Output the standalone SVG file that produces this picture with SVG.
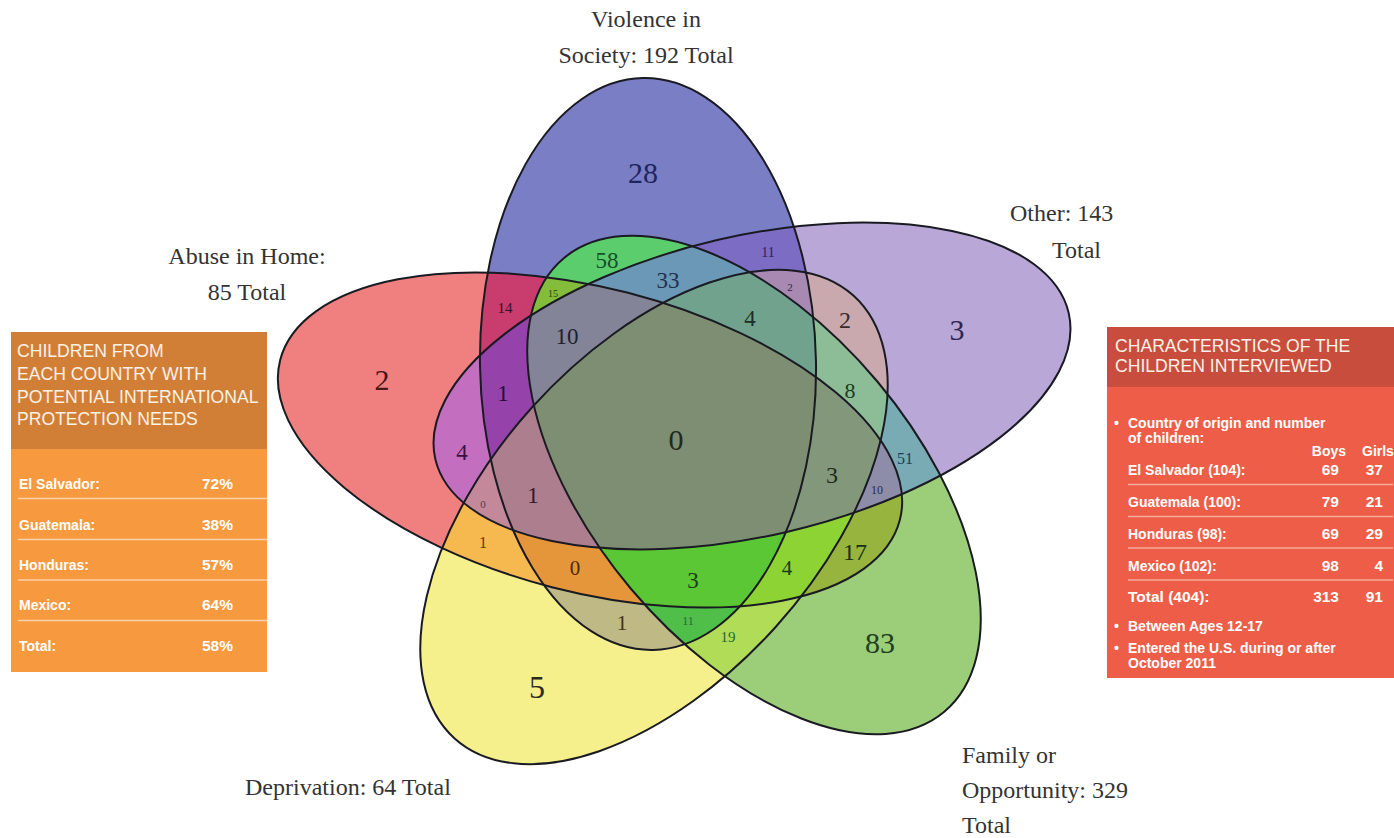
<svg xmlns="http://www.w3.org/2000/svg" xmlns:xlink="http://www.w3.org/1999/xlink" width="1394" height="838" viewBox="0 0 1394 838">
<style>
.ttl{font-family:'Liberation Serif','Times New Roman',serif;font-size:24px;fill:#333333}
.num{font-family:'Liberation Serif','Times New Roman',serif;text-anchor:middle}
.outline{fill:none;stroke:#1a1a22;stroke-width:2}
.hdr{font-family:'Liberation Sans',Arial,sans-serif;font-size:17.6px;fill:#fbf1e6}
.row{font-family:'Liberation Sans',Arial,sans-serif;font-size:14px;font-weight:bold;fill:#ffffff}
.val{font-size:15.5px}
.sepL{stroke:#fbd2a8;stroke-width:1.6}
.sepR{stroke:#f7ab9c;stroke-width:1.6}
</style>
<defs>
<ellipse id="eR" cx="590" cy="440" rx="320" ry="152" transform="rotate(14.5 590 440)"/>
<ellipse id="eB" cx="648" cy="364" rx="168" ry="286" transform="rotate(-1 648 364)"/>
<ellipse id="eP" cx="752" cy="386" rx="325" ry="150" transform="rotate(-13 752 386)"/>
<ellipse id="eY" cx="654" cy="517" rx="298" ry="164" transform="rotate(-48 654 517)"/>
<ellipse id="eG" cx="754" cy="485" rx="296" ry="161" transform="rotate(50 754 485)"/>
<clipPath id="cR"><use href="#eR"/></clipPath>
<clipPath id="cB"><use href="#eB"/></clipPath>
<clipPath id="cP"><use href="#eP"/></clipPath>
<clipPath id="cY"><use href="#eY"/></clipPath>
<clipPath id="cG"><use href="#eG"/></clipPath>
</defs>
<rect width="1394" height="838" fill="#ffffff"/>

<g id="venn-regions">
<use href="#eR" fill="#f08080"/>
<use href="#eB" fill="#7a7ec4"/>
<use href="#eP" fill="#b9a8d7"/>
<use href="#eY" fill="#f5f08c"/>
<use href="#eG" fill="#9ccd78"/>
<g clip-path="url(#cR)"><use href="#eB" fill="#c83c6e"/></g>
<g clip-path="url(#cR)"><use href="#eP" fill="#c46ebf"/></g>
<g clip-path="url(#cR)"><use href="#eY" fill="#f6b94f"/></g>
<g clip-path="url(#cR)"><use href="#eG" fill="#97b43e"/></g>
<g clip-path="url(#cB)"><use href="#eP" fill="#7c6cc4"/></g>
<g clip-path="url(#cB)"><use href="#eY" fill="#bfb985"/></g>
<g clip-path="url(#cB)"><use href="#eG" fill="#5ccd6c"/></g>
<g clip-path="url(#cP)"><use href="#eY" fill="#c9a9ad"/></g>
<g clip-path="url(#cP)"><use href="#eG" fill="#79abb5"/></g>
<g clip-path="url(#cY)"><use href="#eG" fill="#b0dc58"/></g>
<g clip-path="url(#cR)"><g clip-path="url(#cB)"><use href="#eP" fill="#9642ab"/></g></g>
<g clip-path="url(#cR)"><g clip-path="url(#cB)"><use href="#eG" fill="#84bd3c"/></g></g>
<g clip-path="url(#cR)"><g clip-path="url(#cB)"><use href="#eY" fill="#e5963b"/></g></g>
<g clip-path="url(#cR)"><g clip-path="url(#cP)"><use href="#eY" fill="#c3899a"/></g></g>
<g clip-path="url(#cR)"><g clip-path="url(#cP)"><use href="#eG" fill="#8d8ca9"/></g></g>
<g clip-path="url(#cR)"><g clip-path="url(#cY)"><use href="#eG" fill="#8ed334"/></g></g>
<g clip-path="url(#cB)"><g clip-path="url(#cP)"><use href="#eY" fill="#a889b2"/></g></g>
<g clip-path="url(#cB)"><g clip-path="url(#cP)"><use href="#eG" fill="#6b98b6"/></g></g>
<g clip-path="url(#cB)"><g clip-path="url(#cY)"><use href="#eG" fill="#4fbf49"/></g></g>
<g clip-path="url(#cP)"><g clip-path="url(#cY)"><use href="#eG" fill="#8dbd97"/></g></g>
<g clip-path="url(#cR)"><g clip-path="url(#cB)"><g clip-path="url(#cP)"><use href="#eG" fill="#838497"/></g></g></g>
<g clip-path="url(#cR)"><g clip-path="url(#cB)"><g clip-path="url(#cP)"><use href="#eY" fill="#ad7f8e"/></g></g></g>
<g clip-path="url(#cR)"><g clip-path="url(#cB)"><g clip-path="url(#cY)"><use href="#eG" fill="#5cc735"/></g></g></g>
<g clip-path="url(#cR)"><g clip-path="url(#cP)"><g clip-path="url(#cY)"><use href="#eG" fill="#83987b"/></g></g></g>
<g clip-path="url(#cB)"><g clip-path="url(#cP)"><g clip-path="url(#cY)"><use href="#eG" fill="#70a28e"/></g></g></g>
<g clip-path="url(#cR)"><g clip-path="url(#cB)"><g clip-path="url(#cP)"><g clip-path="url(#cY)"><use href="#eG" fill="#7e8e72"/></g></g></g></g>
</g>

<g id="venn-outlines">
<use href="#eR" class="outline"/>
<use href="#eB" class="outline"/>
<use href="#eP" class="outline"/>
<use href="#eY" class="outline"/>
<use href="#eG" class="outline"/>
</g>

<g id="venn-numbers">
<text class="num" x="643" y="183" font-size="30" fill="#1e2460">28</text>
<text class="num" x="382" y="390" font-size="30" fill="#4a1515">2</text>
<text class="num" x="957" y="340" font-size="30" fill="#2e2550">3</text>
<text class="num" x="537" y="698" font-size="32" fill="#2a2a1a">5</text>
<text class="num" x="880" y="653" font-size="30" fill="#1c4020">83</text>
<text class="num" x="676" y="450" font-size="30" fill="#1e2a1e">0</text>
<text class="num" x="607" y="268" font-size="23" fill="#14502a">58</text>
<text class="num" x="668" y="288" font-size="23" fill="#1e3050">33</text>
<text class="num" x="553" y="296.5" font-size="10" fill="#2a4010">15</text>
<text class="num" x="505" y="313" font-size="15" fill="#3a0f20">14</text>
<text class="num" x="567" y="344" font-size="23" fill="#1e2030">10</text>
<text class="num" x="768" y="257" font-size="14" fill="#2a2060">11</text>
<text class="num" x="790" y="291" font-size="11" fill="#3a2040">2</text>
<text class="num" x="750" y="326" font-size="23" fill="#1a3020">4</text>
<text class="num" x="503" y="401" font-size="23" fill="#2a0a3a">1</text>
<text class="num" x="845" y="328" font-size="24" fill="#3a2a2a">2</text>
<text class="num" x="850" y="398" font-size="22" fill="#1e3a22">8</text>
<text class="num" x="832" y="483" font-size="24" fill="#1e2a1a">3</text>
<text class="num" x="905" y="463.5" font-size="16" fill="#1e3a5a">51</text>
<text class="num" x="877" y="494" font-size="12" fill="#2a2a4a">10</text>
<text class="num" x="462" y="460" font-size="23" fill="#3a1040">4</text>
<text class="num" x="533" y="503" font-size="24" fill="#3a1a2a">1</text>
<text class="num" x="483" y="508" font-size="11" fill="#5a3a4a">0</text>
<text class="num" x="483" y="547.5" font-size="16" fill="#5a3a10">1</text>
<text class="num" x="575" y="575" font-size="21" fill="#4a2a08">0</text>
<text class="num" x="622" y="630" font-size="22" fill="#3a3a20">1</text>
<text class="num" x="693" y="588" font-size="23" fill="#1a4010">3</text>
<text class="num" x="688" y="625" font-size="12" fill="#2a6a30">11</text>
<text class="num" x="728" y="642" font-size="15" fill="#2a6a30">19</text>
<text class="num" x="787" y="575" font-size="21" fill="#1a3a10">4</text>
<text class="num" x="855" y="560" font-size="24" fill="#1a3010">17</text>
</g>

<g id="label-violence">
<text class="ttl" x="646" y="27" text-anchor="middle">Violence in</text>
<text class="ttl" x="646" y="63" text-anchor="middle">Society: 192 Total</text>
</g>
<g id="label-abuse">
<text class="ttl" x="247" y="264" text-anchor="middle">Abuse in Home:</text>
<text class="ttl" x="247" y="300" text-anchor="middle">85 Total</text>
</g>
<g id="label-other">
<text class="ttl" x="1010" y="221">Other: 143</text>
<text class="ttl" x="1052" y="258">Total</text>
</g>
<g id="label-deprivation">
<text class="ttl" x="245" y="795">Deprivation: 64 Total</text>
</g>
<g id="label-family">
<text class="ttl" x="962" y="763">Family or</text>
<text class="ttl" x="962" y="798">Opportunity: 329</text>
<text class="ttl" x="962" y="833">Total</text>
</g>

<g id="panel-left">
<rect x="11" y="332" width="256" height="117" fill="#d17f37"/>
<rect x="11" y="449" width="256" height="223" fill="#f6993f"/>
<text class="hdr" x="17" y="357">CHILDREN FROM</text>
<text class="hdr" x="17" y="380">EACH COUNTRY WITH</text>
<text class="hdr" x="17" y="403">POTENTIAL INTERNATIONAL</text>
<text class="hdr" x="17" y="425">PROTECTION NEEDS</text>
<line class="sepL" x1="18" y1="498.5" x2="267" y2="498.5"/>
<line class="sepL" x1="18" y1="539.5" x2="267" y2="539.5"/>
<line class="sepL" x1="18" y1="580" x2="267" y2="580"/>
<line class="sepL" x1="18" y1="620.5" x2="267" y2="620.5"/>
<text class="row" x="19" y="489">El Salvador:</text>
<text class="row val" x="233" y="489" text-anchor="end">72%</text>
<text class="row" x="19" y="530">Guatemala:</text>
<text class="row val" x="233" y="530" text-anchor="end">38%</text>
<text class="row" x="19" y="570">Honduras:</text>
<text class="row val" x="233" y="570" text-anchor="end">57%</text>
<text class="row" x="19" y="610">Mexico:</text>
<text class="row val" x="233" y="610" text-anchor="end">64%</text>
<text class="row" x="19" y="651" font-size="15">Total:</text>
<text class="row val" x="233" y="651" text-anchor="end">58%</text>
</g>

<g id="panel-right">
<rect x="1107" y="327" width="287" height="60" fill="#c94d3d"/>
<rect x="1107" y="387" width="287" height="291" fill="#ee5d47"/>
<text class="hdr" x="1115" y="351.5">CHARACTERISTICS OF THE</text>
<text class="hdr" x="1115" y="371.5">CHILDREN INTERVIEWED</text>
<text class="row" x="1114" y="428">•</text>
<text class="row" x="1128" y="428">Country of origin and number</text>
<text class="row" x="1128" y="443">of children:</text>
<text class="row" x="1346" y="456" text-anchor="end">Boys</text>
<text class="row" x="1362" y="456">Girls</text>
<text class="row" x="1128" y="475">El Salvador (104):</text>
<text class="row val" x="1339" y="475" text-anchor="end">69</text>
<text class="row val" x="1383" y="475" text-anchor="end">37</text>
<line class="sepR" x1="1128" y1="484.5" x2="1393" y2="484.5"/>
<text class="row" x="1128" y="507">Guatemala (100):</text>
<text class="row val" x="1339" y="507" text-anchor="end">79</text>
<text class="row val" x="1383" y="507" text-anchor="end">21</text>
<line class="sepR" x1="1128" y1="516.5" x2="1393" y2="516.5"/>
<text class="row" x="1128" y="539">Honduras (98):</text>
<text class="row val" x="1339" y="539" text-anchor="end">69</text>
<text class="row val" x="1383" y="539" text-anchor="end">29</text>
<line class="sepR" x1="1128" y1="548" x2="1393" y2="548"/>
<text class="row" x="1128" y="571">Mexico (102):</text>
<text class="row val" x="1339" y="571" text-anchor="end">98</text>
<text class="row val" x="1383" y="571" text-anchor="end">4</text>
<line class="sepR" x1="1128" y1="580" x2="1393" y2="580"/>
<text class="row val" x="1128" y="602">Total (404):</text>
<text class="row val" x="1339" y="602" text-anchor="end">313</text>
<text class="row val" x="1383" y="602" text-anchor="end">91</text>
<text class="row" x="1114" y="631">•</text>
<text class="row" x="1128" y="631">Between Ages 12-17</text>
<text class="row" x="1114" y="653">•</text>
<text class="row" x="1128" y="653">Entered the U.S. during or after</text>
<text class="row" x="1128" y="668">October 2011</text>
</g>
</svg>
